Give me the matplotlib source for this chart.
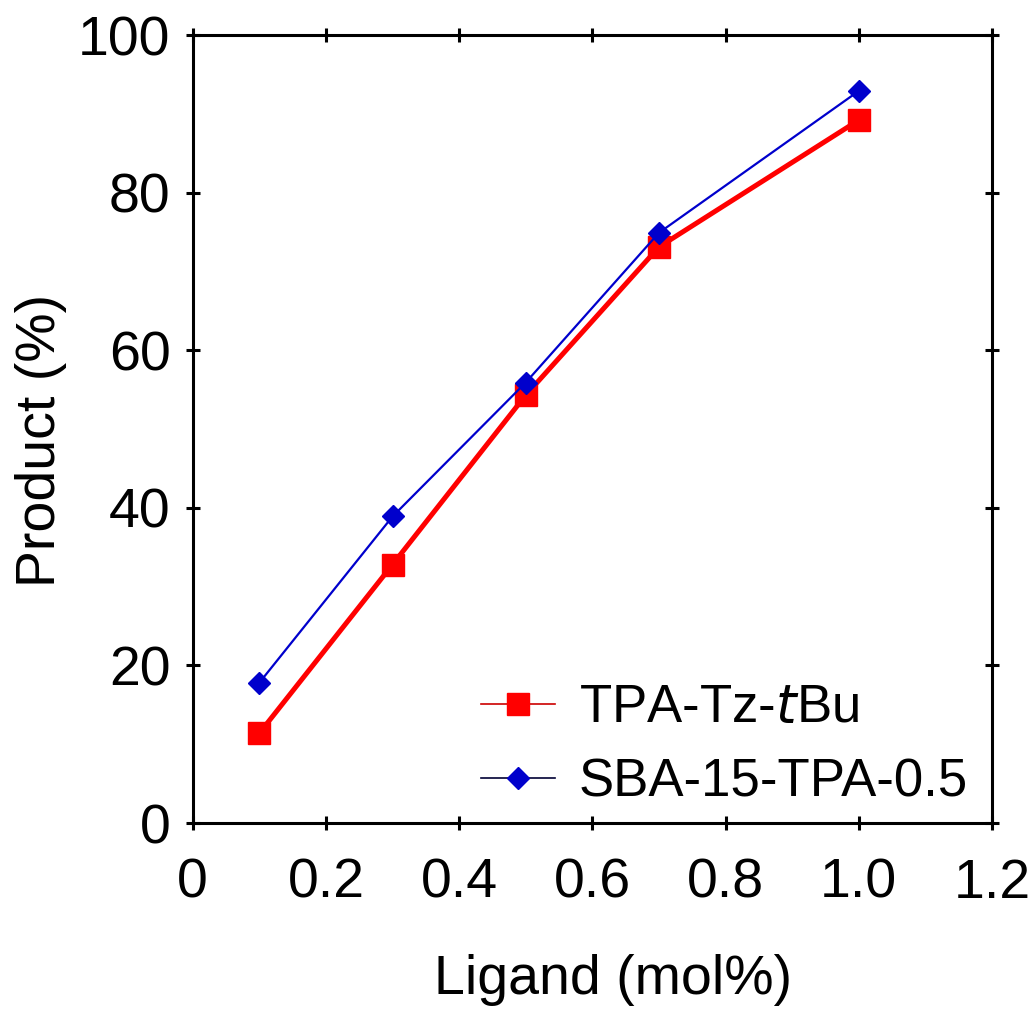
import matplotlib.pyplot as plt
from matplotlib.lines import Line2D

plt.rcParams['font.family'] = ['Liberation Sans', 'DejaVu Sans']

# 数据
ligand = [0.1, 0.3, 0.5, 0.7, 1.0]
tpa_tz_tbu = [11.4, 32.8, 54.3, 73.1, 89.2]
sba_tpa = [17.8, 38.9, 55.9, 74.9, 92.9]

fig = plt.figure(figsize=(10.36, 10.09), dpi=100)
ax = fig.add_axes([0.186, 0.1843, 0.7715, 0.781])

ax.plot(ligand, tpa_tz_tbu, color='#ff0000', lw=3.6, marker='s', ms=16,
        mec='#ff0000', mfc='#ff0000', zorder=3)
ax.plot(ligand, sba_tpa, color='#0000cc', lw=1.6, marker='D', ms=11,
        mec='#0000cc', mfc='#0000cc', zorder=4)

ax.set_xlim(0, 1.2)
ax.set_ylim(0, 100)
ax.set_xticks([0, 0.2, 0.4, 0.6, 0.8, 1.0, 1.2])
ax.set_xticklabels(['0', '0.2', '0.4', '0.6', '0.8', '1.0', '1.2'])
ax.set_yticks([0, 20, 40, 60, 80, 100])

for s in ax.spines.values():
    s.set_linewidth(2.2)
ax.tick_params(direction='inout', length=10, width=2.2, labelsize=40,
               top=True, right=True, pad=11)
ax.tick_params(axis='x', pad=20)

ax.set_xlabel('Ligand (mol%)', fontsize=40, labelpad=32)
ax.set_ylabel('Product (%)', fontsize=40, labelpad=8)
ax.xaxis.label.set_x(0.526)
ax.yaxis.label.set_y(0.486)

handles = [
    Line2D([], [], color='#cc0000', lw=1.2, marker='s', ms=16, mfc='#ff0000', mec='#ff0000'),
    Line2D([], [], color='#000033', lw=1.2, marker='D', ms=11, mfc='#0000cc', mec='#0000cc'),
]
ax.legend(handles, ['TPA-Tz-$t$Bu', 'SBA-15-TPA-0.5'], loc='lower right',
          frameon=False, fontsize=38, handlelength=1.4, handletextpad=0.45,
          labelspacing=0.45, borderaxespad=0.05, bbox_to_anchor=(1.0, -0.01))

fig.savefig('out.png', dpi=100)
